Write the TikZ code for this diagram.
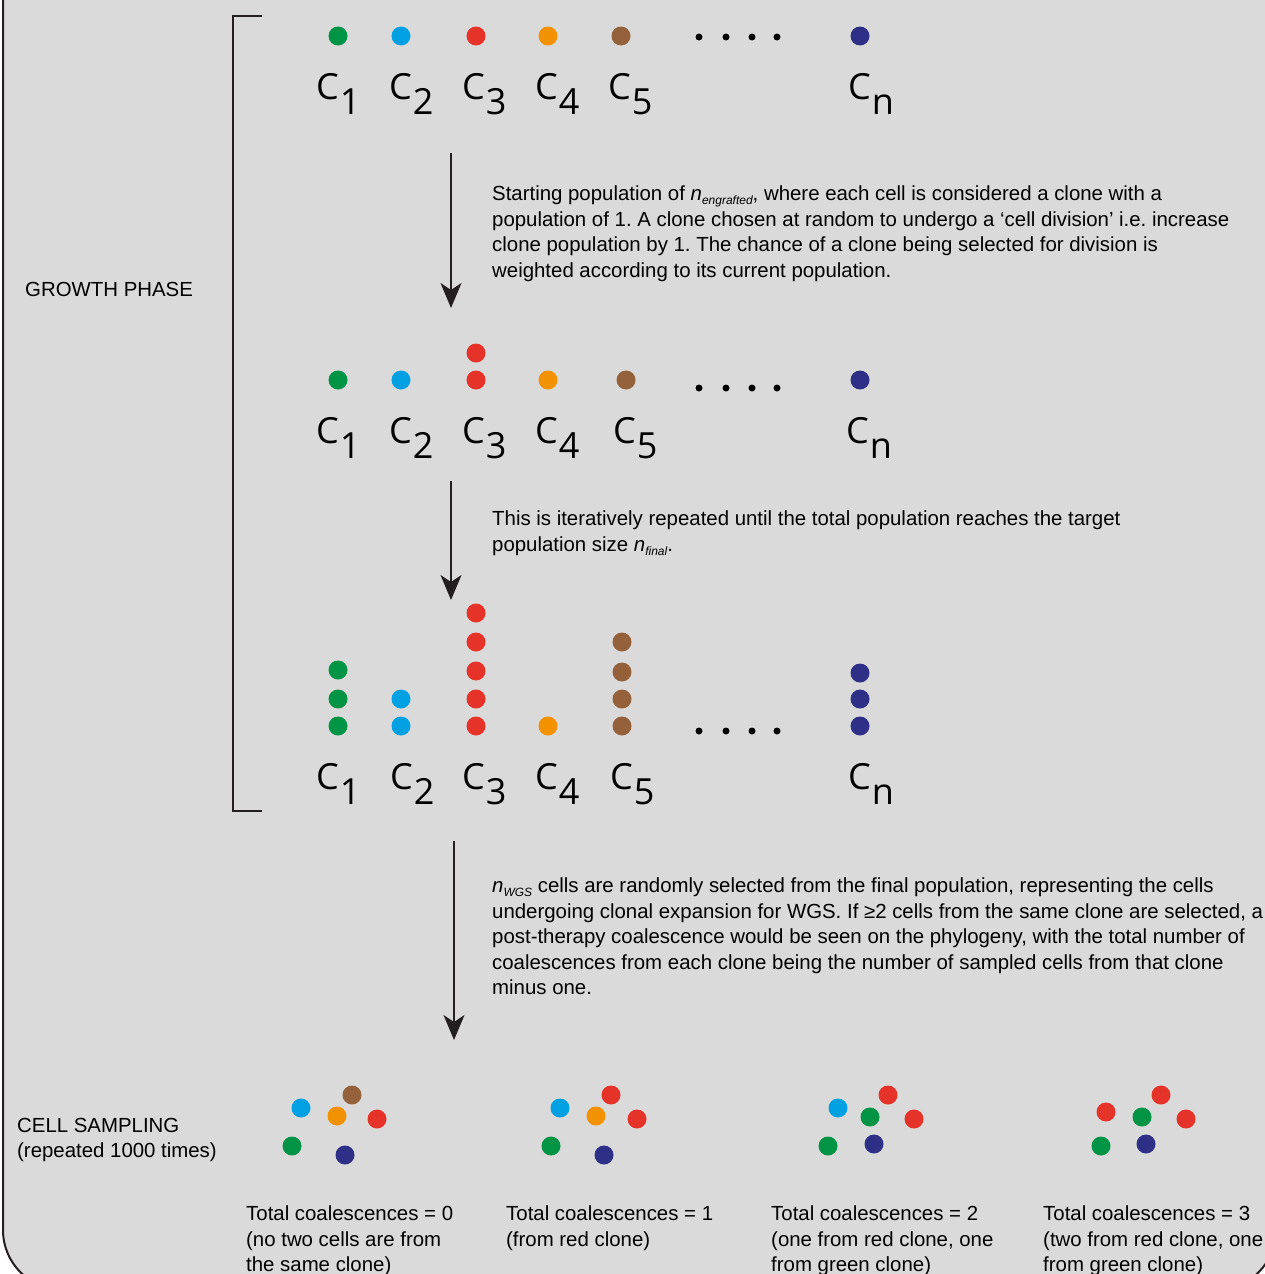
\documentclass[tikz,border=0pt]{standalone}
\usepackage{fontspec}
\setmainfont{Liberation Sans}
\newfontfamily\clonefont{Open Sans}
\usepackage{tikz}
\usetikzlibrary{arrows.meta}
\frenchspacing

\definecolor{bggray}{HTML}{DADADA}
\definecolor{edge}{HTML}{231F20}
\definecolor{cgreen}{HTML}{009444}
\definecolor{cblue}{HTML}{00A0E3}
\definecolor{cred}{HTML}{E5332A}
\definecolor{corange}{HTML}{F39200}
\definecolor{cbrown}{HTML}{94613A}
\definecolor{cnavy}{HTML}{2E3087}

\newcommand{\clonelbl}[1]{C\kern1pt\raisebox{-15pt}{#1}}
\newcommand{\lowidx}[1]{\raisebox{-4pt}{\fontsize{12}{12}\selectfont\itshape #1}}

\begin{document}
\begin{tikzpicture}[x=1pt, y=-1pt,
		txt/.style={font={\fontsize{20.4}{25.4}\selectfont}, inner sep=0, align=left, anchor=north west},
		clonelab/.style={font={\clonefont\fontsize{36}{36}\selectfont}, inner sep=0, anchor=base west},
		flow/.style={line width=1.6pt, draw=edge, -{Stealth[length=25pt, width=21pt, inset=7pt]}}]
			\def\r{9.5pt};

			% frame
			\useasboundingbox (0,0) rectangle (1265,1274);
			\fill[white] (0,0) rectangle (1265,1274);
			\clip (0,0) rectangle (1265,1274);
			\draw[line width=2pt, draw=edge, fill=bggray, rounded corners=60pt] (3,-100) rectangle (1276,1290);

			% growth phase bracket
			\draw[line width=2.5pt, draw=edge] (262,16) -- (233,16) -- (233,811) -- (262,811);
			\node[anchor=base west, inner sep=0, font={\fontsize{20.4}{24}\selectfont}] (growth) at (25,296) {GROWTH PHASE};

			% row 1
			\foreach \xx/\cc in {338/cgreen, 401/cblue, 476/cred, 548/corange, 621/cbrown, 860/cnavy}
				\fill[\cc] (\xx,36) circle (\r);
			\foreach \k/\xx in {1/316, 2/389, 3/462, 4/535, 5/608, n/848}
				\node[clonelab] (cA\k) at (\xx,99) {\clonelbl{\k}};

			% row 2
			\foreach \xx/\cc in {338/cgreen, 401/cblue, 476/cred, 548/corange, 626/cbrown, 860/cnavy}
				\fill[\cc] (\xx,380) circle (\r);
			\fill[cred] (476,353) circle (\r);
			\foreach \k/\xx in {1/316, 2/389, 3/462, 4/535, 5/613, n/846}
				\node[clonelab] (cB\k) at (\xx,443) {\clonelbl{\k}};

			% row 3
			\foreach \yy in {670,699,726} \fill[cgreen] (338,\yy) circle (\r);
			\foreach \yy in {699,726} \fill[cblue] (401,\yy) circle (\r);
			\foreach \yy in {613,642,671,699,726} \fill[cred] (476,\yy) circle (\r);
			\fill[corange] (548,726) circle (\r);
			\foreach \yy in {642,672,699,726} \fill[cbrown] (622,\yy) circle (\r);
			\foreach \yy in {673,699,726} \fill[cnavy] (860,\yy) circle (\r);
			\foreach \k/\xx in {1/316, 2/390, 3/462, 4/535, 5/610, n/848}
				\node[clonelab] (cC\k) at (\xx,789) {\clonelbl{\k}};

			% dots between c5 and cn
			\foreach \yy in {37,388,731}
				\foreach \xx in {699,726,752,777}
					\fill (\xx,\yy) circle (3.5pt);

			% arrows
			\coordinate (arrA) at (451,153);
			\coordinate (arrAend) at (451,308);
			\coordinate (arrB) at (451,481);
			\coordinate (arrBend) at (451,600);
			\coordinate (arrC) at (454,841);
			\coordinate (arrCend) at (454,1040);
			\draw[flow] (arrA) -- (arrAend);
			\draw[flow] (arrB) -- (arrBend);
			\draw[flow] (arrC) -- (arrCend);

			\node[txt] (stepA) at (492,186) {Starting population of \textit{n}\lowidx{engrafted}, where each cell is considered a clone with a\\
				population of 1. A clone chosen at random to undergo a ‘cell division’ i.e. increase\\
				clone population by 1. The chance of a clone being selected for division is\\
				weighted according to its current population.};
			\node[txt] (stepB) at (492,511) {This is iteratively repeated until the total population reaches the target\\
				population size \textit{n}\lowidx{final}.};
			\node[txt] (stepC) at (492,878) {\textit{n}\lowidx{WGS} cells are randomly selected from the final population, representing the cells\\
				undergoing clonal expansion for WGS. If ≥2 cells from the same clone are selected, a\\
				post-therapy coalescence would be seen on the phylogeny, with the total number of\\
				coalescences from each clone being the number of sampled cells from that clone\\
				minus one.};

			% cell sampling
			\node[txt] (sampling) at (17,1118) {CELL SAMPLING\\(repeated 1000 times)};

			\foreach \xx/\yy/\cc in {301/1108/cblue, 352/1095/cbrown, 337/1116/corange, 377/1119/cred, 292/1146/cgreen, 345/1155/cnavy,
					560/1108/cblue, 611/1095/cred, 596/1116/corange, 637/1119/cred, 551/1146/cgreen, 604/1155/cnavy,
					838/1108/cblue, 888/1095/cred, 870/1117/cgreen, 914/1119/cred, 828/1146/cgreen, 874/1144/cnavy,
					1106/1112/cred, 1161/1095/cred, 1142/1117/cgreen, 1186/1119/cred, 1101/1146/cgreen, 1146/1144/cnavy}
				\fill[\cc] (\xx,\yy) circle (\r);

			\node[txt] (capA) at (246,1206) {Total coalescences = 0\\(no two cells are from\\the same clone)};
			\node[txt] (capB) at (506,1206) {Total coalescences = 1\\(from red clone)};
			\node[txt] (capC) at (771,1206) {Total coalescences = 2\\(one from red clone, one\\from green clone)};
			\node[txt] (capD) at (1043,1206) {Total coalescences = 3\\(two from red clone, one\\from green clone)};
		\end{tikzpicture}
\end{document}
